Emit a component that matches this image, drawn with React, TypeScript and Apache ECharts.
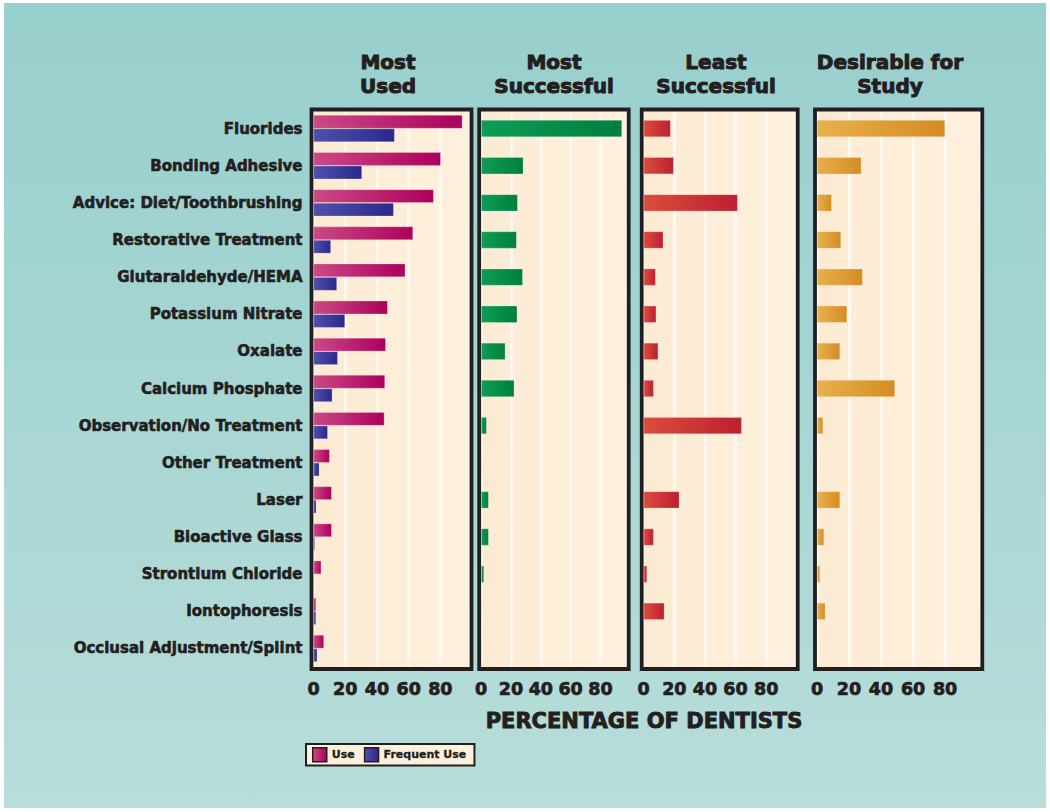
import React, { useEffect, useRef } from "react";
import * as echarts from "echarts";

const categories = [
  "Fluorides",
  "Bonding Adhesive",
  "Advice: Diet/Toothbrushing",
  "Restorative Treatment",
  "Glutaraldehyde/HEMA",
  "Potassium Nitrate",
  "Oxalate",
  "Calcium Phosphate",
  "Observation/No Treatment",
  "Other Treatment",
  "Laser",
  "Bioactive Glass",
  "Strontium Chloride",
  "Iontophoresis",
  "Occlusal Adjustment/Splint",
];

const useValues = [93.9, 80.3, 75.8, 62.8, 57.9, 46.8, 45.6, 45.1, 44.7, 10.2, 11.5, 11.5, 4.9, 1.6, 6.6];
const frequentUseValues = [51.2, 30.6, 50.6, 11, 14.8, 19.9, 15.3, 11.9, 9, 3.7, 1.8, 0.9, 0, 1.6, 2.4];
const mostSuccessfulValues = [94.5, 28.3, 24.5, 23.8, 27.9, 24.2, 16.2, 22.2, 3.7, 0, 5, 5, 1.9, 0, 0];
const leastSuccessfulValues = [17.6, 19.6, 61.4, 12.8, 7.8, 8.2, 9.5, 6.5, 64, 0, 23.3, 6.5, 2.2, 13.5, 0];
const desirableValues = [80, 27.7, 9.2, 15, 28.5, 18.8, 14.4, 48.7, 3.8, 0, 14.4, 4.4, 1.9, 5.2, 0];

const panelTitles = ["Most\nUsed", "Most\nSuccessful", "Least\nSuccessful", "Desirable for\nStudy"];
const tickValuesShown = [0, 20, 40, 60, 80];
const axisTitle = "PERCENTAGE OF DENTISTS";
const legendNames = ["Use", "Frequent Use"];

const FONT = "DejaVu Sans";
const INK = "#231f20";
const GRIDLINE = "#fffaf3";

const panels = [
  { left: 313.5, width: 156, max: 98.4, titleX: 388 },
  { left: 481.2, width: 145.5, max: 97.65, titleX: 554 },
  { left: 643.7, width: 152, max: 99.3, titleX: 716 },
  { left: 817, width: 163.3, max: 102, titleX: 890 },
];

const GRID_TOP = 110;
const GRID_H = 557;

function grad(a: string, b: string) {
  return new echarts.graphic.LinearGradient(0, 0, 1, 0, [
    { offset: 0, color: a },
    { offset: 1, color: b },
  ]);
}

export default function App() {
  const ref = useRef<HTMLDivElement>(null);

  useEffect(() => {
    if (!ref.current) return;
    const chart = echarts.init(ref.current, undefined, { renderer: "svg" });

    const grids = panels.map((p) => ({
      left: p.left,
      top: GRID_TOP,
      width: p.width,
      height: GRID_H,
      show: true,
      borderWidth: 0,
      backgroundColor: grad("#fcebd2", "#fff1df"),
      containLabel: false,
    }));

    const xAxes = panels.map((p, i) => ({
      type: "value",
      gridIndex: i,
      min: 0,
      max: p.max,
      interval: 20,
      axisLine: { show: false },
      axisTick: { show: false },
      splitLine: {
        show: true,
        lineStyle: {
          color: [GRIDLINE, GRIDLINE, GRIDLINE, GRIDLINE, GRIDLINE, p.max > 100 ? "rgba(0,0,0,0)" : GRIDLINE, GRIDLINE],
          width: 2.5,
        },
      },
      axisLabel: {
        show: true,
        showMaxLabel: false,
        margin: 13,
        color: INK,
        fontFamily: FONT,
        fontWeight: "bold",
        fontSize: 17.5,
        textBorderColor: INK,
        textBorderWidth: 0.7,
        formatter: (v: number) => (tickValuesShown.indexOf(v) >= 0 ? String(v) : ""),
      },
    }));

    const yAxes = panels.map((p, i) => ({
      type: "category",
      gridIndex: i,
      data: categories,
      inverse: true,
      axisLine: { show: false },
      axisTick: { show: false },
      splitLine: { show: false },
      axisLabel: {
        show: i === 0,
        margin: 11,
        color: INK,
        fontFamily: FONT,
        fontWeight: "bold",
        fontSize: 15,
        textBorderColor: INK,
        textBorderWidth: 0.6,
      },
    }));

    const barBorder = { borderColor: "rgba(255,235,235,0.45)", borderWidth: 0.6 };

    const series = [
      {
        name: legendNames[0],
        type: "bar",
        xAxisIndex: 0,
        yAxisIndex: 0,
        data: useValues,
        barWidth: 13.5,
        barGap: "0%",
        itemStyle: { color: grad("#ca4a86", "#ad005c"), ...barBorder },
      },
      {
        name: legendNames[1],
        type: "bar",
        xAxisIndex: 0,
        yAxisIndex: 0,
        data: frequentUseValues,
        barWidth: 13.5,
        barGap: "0%",
        itemStyle: { color: grad("#5050ac", "#2a298c"), ...barBorder },
      },
      {
        name: "Most Successful",
        type: "bar",
        xAxisIndex: 1,
        yAxisIndex: 1,
        data: mostSuccessfulValues,
        barWidth: 17,
        itemStyle: { color: grad("#0c9d58", "#007f3e"), ...barBorder },
      },
      {
        name: "Least Successful",
        type: "bar",
        xAxisIndex: 2,
        yAxisIndex: 2,
        data: leastSuccessfulValues,
        barWidth: 17,
        itemStyle: { color: grad("#db4d3d", "#bd1f2f"), ...barBorder },
      },
      {
        name: "Desirable for Study",
        type: "bar",
        xAxisIndex: 3,
        yAxisIndex: 3,
        data: desirableValues,
        barWidth: 17,
        itemStyle: { color: grad("#e9b04d", "#d58c22"), ...barBorder },
      },
    ];

    const graphics: any[] = [];
    panels.forEach((p, i) => {
      graphics.push({
        type: "rect",
        z: 100,
        silent: true,
        shape: { x: p.left - 2, y: 109.5, width: p.width + 4, height: 559.5 },
        style: { fill: "none", stroke: "#231f20", lineWidth: 3.8 },
      });
      graphics.push({
        type: "text",
        z: 100,
        x: p.titleX,
        y: 74,
        style: {
          text: panelTitles[i],
          align: "center",
          verticalAlign: "middle",
          fill: INK,
          stroke: INK,
          lineWidth: 1,
          fontFamily: FONT,
          fontWeight: "bold",
          fontSize: 20,
          lineHeight: 24,
        },
      });
    });
    graphics.push({
      type: "text",
      z: 100,
      x: 644,
      y: 721,
      style: {
        text: axisTitle,
        align: "center",
        verticalAlign: "middle",
        fill: INK,
        stroke: INK,
        lineWidth: 0.9,
        fontFamily: FONT,
        fontWeight: "bold",
        fontSize: 21,
      },
    });

    chart.setOption({
      animation: false,
      backgroundColor: "transparent",
      grid: grids,
      xAxis: xAxes,
      yAxis: yAxes,
      series,
      graphic: graphics,
      legend: {
        data: legendNames,
        left: 306,
        top: 744,
        orient: "horizontal",
        icon: "rect",
        itemWidth: 14,
        itemHeight: 14,
        itemGap: 9,
        padding: [3, 8, 3, 6],
        backgroundColor: "#fdf0dc",
        borderColor: "#231f20",
        borderWidth: 2,
        selectedMode: false,
        itemStyle: { borderColor: "#231f20", borderWidth: 1.5 },
        textStyle: {
          color: INK,
          fontFamily: FONT,
          fontWeight: "bold",
          fontSize: 11,
          textBorderColor: INK,
          textBorderWidth: 0.3,
        },
      },
    });

    return () => chart.dispose();
  }, []);

  return (
    <div style={{ position: "absolute", left: 0, top: 0, width: 1050, height: 812, background: "#ffffff" }}>
      <div
        style={{
          position: "absolute",
          left: 4,
          top: 3,
          width: 1042,
          height: 805,
          background: "linear-gradient(#97cfcd, #b8ddda)",
        }}
      />
      <div ref={ref} style={{ position: "absolute", left: 0, top: 0, width: 1050, height: 812 }} />
    </div>
  );
}
